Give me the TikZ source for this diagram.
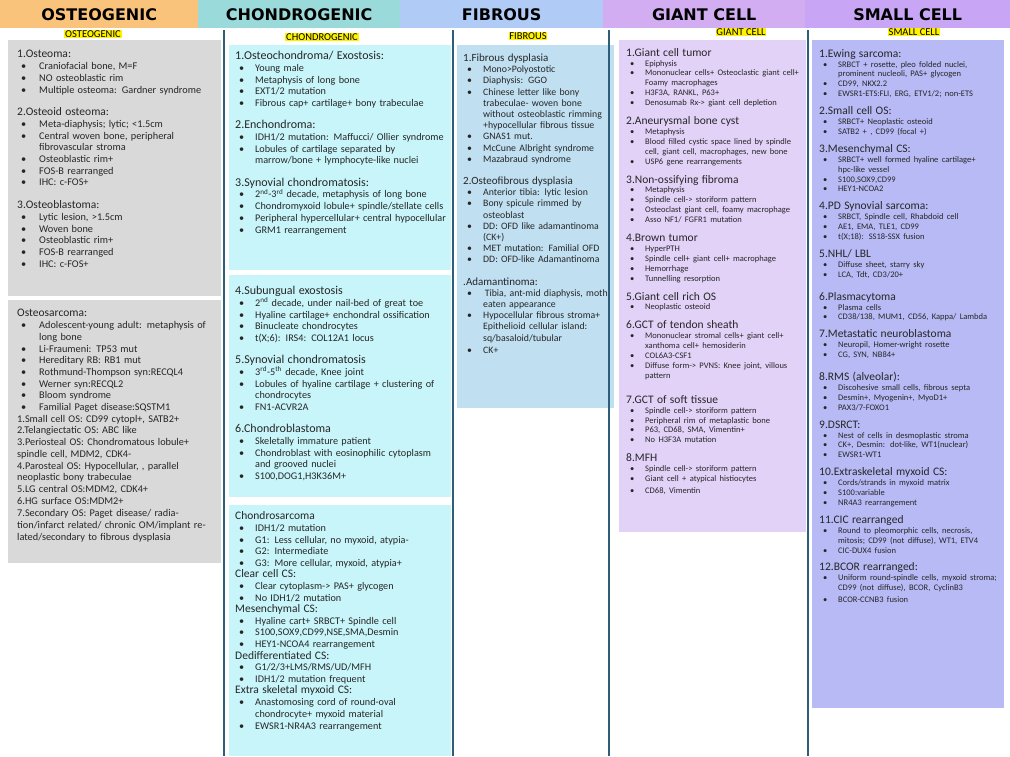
\documentclass[tikz,border=0pt]{standalone}
\usepackage{fontspec}
\setmainfont{Carlito}
\newfontfamily\hfont{DejaVu Sans}
\definecolor{hosteo}{HTML}{FAC37C}
\definecolor{hchon}{HTML}{9ADADA}
\definecolor{hfib}{HTML}{B0CBF5}
\definecolor{hgiant}{HTML}{D3ADF2}
\definecolor{hsmall}{HTML}{C8A6F5}
\definecolor{bosteo}{HTML}{D9D9D9}
\definecolor{bchon}{HTML}{C8F5FA}
\definecolor{bfib}{HTML}{C0E0F2}
\definecolor{bgiant}{HTML}{E2D2F8}
\definecolor{bsmall}{HTML}{B8BAF5}
\definecolor{vline}{HTML}{2E5E7A}
\definecolor{txt}{HTML}{262626}
\newlength\bind
\newlength\gapsize
\newcommand\hdfont{}
\newcommand\bdfont{}
\newcommand\bul[1]{\par\noindent\hangindent=\bind\hangafter=1\makebox[\bind][l]{\hspace{4pt}\textbullet}\ignorespaces#1}
\newcommand\hd[1]{\par\noindent{\hdfont #1}}
\newcommand\plainln[1]{\par\noindent #1}
\newcommand\gap{\par\vspace{\gapsize}}
\newcommand\setcol[5]{\setlength\bind{#1}\setlength\gapsize{#2}\renewcommand\hdfont{\fontsize{#3}{#4}\selectfont}\renewcommand\bdfont{\fontsize{#5}{\dimexpr#5pt+1.4pt\relax}\selectfont}\hyphenpenalty=10000\exhyphenpenalty=10000}
\tikzset{
 hbar/.style={anchor=north west,inner sep=0,minimum height=28pt,font=\hfont\bfseries\fontsize{16}{18}\selectfont},
 col/.style={anchor=north west,inner sep=0,align=left,text=txt},
 tag/.style={fill=yellow,inner sep=0.8pt,font=\fontsize{10.5}{11}\selectfont},
}
\begin{document}
\begin{tikzpicture}[x=1pt,y=-1pt]
\useasboundingbox[fill=white] (0,0) rectangle (1010,756);
% header bars
\node[hbar,fill=hosteo,minimum width=198pt] (h1) at (0,0) {OSTEOGENIC};
\node[hbar,fill=hchon,minimum width=202pt] (h2) at (198,0) {CHONDROGENIC};
\node[hbar,fill=hfib,minimum width=203pt] (h3) at (400,0) {FIBROUS};
\node[hbar,fill=hgiant,minimum width=202pt] (h4) at (603,0) {GIANT CELL};
\node[hbar,fill=hsmall,minimum width=205pt] (h5) at (805,0) {SMALL CELL};
% boxes
\fill[bosteo] (8,40) rectangle (221,296);
\fill[bosteo] (8,300) rectangle (221,563);
\fill[bchon] (229,45) rectangle (451,270);
\fill[bchon] (229,275) rectangle (451,497);
\fill[bchon] (229,505) rectangle (451,756);
\fill[bfib] (457,45) rectangle (614,408);
\fill[bgiant] (619,40) rectangle (806,532);
\fill[bsmall] (812,40) rectangle (1004,708);
% vertical lines
\foreach \xx in {224,453,609,808} \draw[vline,line width=1.5pt] (\xx,30) -- (\xx,756);
% tags
\node[tag] (t1) at (93,34) {OSTEOGENIC};
\node[tag] (t2) at (322,37) {CHONDROGENIC};
\node[tag] (t3) at (528,36) {FIBROUS};
\node[tag] (t4) at (741,32) {GIANT CELL};
\node[tag] (t5) at (914,32) {SMALL CELL};
% osteogenic
\node[col,text width=203pt] (o1) at (17,46) {\setcol{22pt}{11pt}{11.5}{13.5}{10.3}\bdfont
\hd{1.Osteoma:}
\bul{Craniofacial bone, M=F}
\bul{NO osteoblastic rim}
\bul{Multiple osteoma: Gardner syndrome}
\gap\hd{2.Osteoid osteoma:}
\bul{Meta-diaphysis; lytic; <1.5cm}
\bul{Central woven bone, peripheral fibrovascular stroma}
\bul{Osteoblastic rim+}
\bul{FOS-B rearranged}
\bul{IHC: c-FOS+}
\gap\hd{3.Osteoblastoma:}
\bul{Lytic lesion, >1.5cm}
\bul{Woven bone}
\bul{Osteoblastic rim+}
\bul{FOS-B rearranged}
\bul{IHC: c-FOS+}};
\node[col,text width=203pt] (o2) at (17,305) {\setcol{22pt}{11pt}{11.5}{13.5}{10.3}\bdfont
\hd{Osteosarcoma:}
\bul{Adolescent-young adult: metaphysis of long bone}
\bul{Li-Fraumeni: TP53 mut}
\bul{Hereditary RB: RB1 mut}
\bul{Rothmund-Thompson syn:RECQL4}
\bul{Werner syn:RECQL2}
\bul{Bloom syndrome}
\bul{Familial Paget disease:SQSTM1}
\plainln{1.Small cell OS: CD99 cytopl+, SATB2+}
\plainln{2.Telangiectatic OS: ABC like}
\plainln{3.Periosteal OS: Chondromatous lobule+ spindle cell, MDM2, CDK4-}
\plainln{4.Parosteal OS: Hypocellular, , parallel neoplastic bony trabeculae}
\plainln{5.LG central OS:MDM2, CDK4+}
\plainln{6.HG surface OS:MDM2+}
\plainln{7.Secondary OS: Paget disease/ radiation/infarct related/ chronic OM/implant related/secondary to fibrous dysplasia}};
% chondrogenic
\node[col,text width=212pt] (c1) at (235,48) {\setcol{20pt}{11pt}{12}{14}{10.2}\bdfont
\hd{1.Osteochondroma/ Exostosis:}
\bul{Young male}
\bul{Metaphysis of long bone}
\bul{EXT1/2 mutation}
\bul{Fibrous cap+ cartilage+ bony trabeculae}
\gap\hd{2.Enchondroma:}
\bul{IDH1/2 mutation: Maffucci/ Ollier syndrome}
\bul{Lobules of cartilage separated by marrow/bone + lymphocyte-like nuclei}
\gap\hd{3.Synovial chondromatosis:}
\bul{2\textsuperscript{nd}-3\textsuperscript{rd} decade, metaphysis of long bone}
\bul{Chondromyxoid lobule+ spindle/stellate cells}
\bul{Peripheral hypercellular+ central hypocellular}
\bul{GRM1 rearrangement}};
\node[col,text width=212pt] (c2) at (235,283) {\setcol{20pt}{11pt}{12}{14}{10.2}\bdfont
\hd{4.Subungual exostosis}
\bul{2\textsuperscript{nd} decade, under nail-bed of great toe}
\bul{Hyaline cartilage+ enchondral ossification}
\bul{Binucleate chondrocytes}
\bul{t(X;6): IRS4: COL12A1 locus}
\gap\hd{5.Synovial chondromatosis}
\bul{3\textsuperscript{rd}-5\textsuperscript{th} decade, Knee joint}
\bul{Lobules of hyaline cartilage + clustering of chondrocytes}
\bul{FN1-ACVR2A}
\gap\hd{6.Chondroblastoma}
\bul{Skeletally immature patient}
\bul{Chondroblast with eosinophilic cytoplasm and grooved nuclei}
\bul{S100,DOG1,H3K36M+}};
\node[col,text width=212pt] (c3) at (235,508) {\setcol{20pt}{11pt}{11.5}{13}{10.2}\bdfont
\hd{Chondrosarcoma}
\bul{IDH1/2 mutation}
\bul{G1: Less cellular, no myxoid, atypia-}
\bul{G2: Intermediate}
\bul{G3: More cellular, myxoid, atypia+}
\hd{Clear cell CS:}
\bul{Clear cytoplasm-> PAS+ glycogen}
\bul{No IDH1/2 mutation}
\hd{Mesenchymal CS:}
\bul{Hyaline cart+ SRBCT+ Spindle cell}
\bul{S100,SOX9,CD99,NSE,SMA,Desmin}
\bul{HEY1-NCOA4 rearrangement}
\hd{Dedifferentiated CS:}
\bul{G1/2/3+LMS/RMS/UD/MFH}
\bul{IDH1/2 mutation frequent}
\hd{Extra skeletal myxoid CS:}
\bul{Anastomosing cord of round-oval chondrocyte+ myxoid material}
\bul{EWSR1-NR4A3 rearrangement}};
% fibrous
\node[col,text width=148pt] (f1) at (463,50) {\setcol{20pt}{11pt}{11}{13}{9.8}\bdfont
\hd{1.Fibrous dysplasia}
\bul{Mono>Polyostotic}
\bul{Diaphysis: GGO}
\bul{Chinese letter like bony trabeculae- woven bone without osteoblastic rimming +hypocellular fibrous tissue}
\bul{GNAS1 mut.}
\bul{McCune Albright syndrome}
\bul{Mazabraud syndrome}
\gap\hd{2.Osteofibrous dysplasia}
\bul{Anterior tibia: lytic lesion}
\bul{Bony spicule rimmed by osteoblast}
\bul{DD: OFD like adamantinoma (CK+)}
\bul{MET mutation: Familial OFD}
\bul{DD: OFD-like Adamantinoma}
\gap\hd{.Adamantinoma:}
\bul{\,Tibia, ant-mid diaphysis, moth eaten appearance}
\bul{Hypocellular fibrous stroma+ Epithelioid cellular island: sq/basaloid/tubular}
\bul{CK+}};
% giant cell
\node[col,text width=176pt] (g1) at (626,46) {\setcol{19pt}{9pt}{11.5}{13.5}{8.5}\bdfont
\hd{1.Giant cell tumor}
\bul{Epiphysis}
\bul{Mononuclear cells+ Osteoclastic giant cell+ Foamy macrophages}
\bul{H3F3A, RANKL, P63+}
\bul{Denosumab Rx-> giant cell depletion}
\gap\hd{2.Aneurysmal bone cyst}
\bul{Metaphysis}
\bul{Blood filled cystic space lined by spindle cell, giant cell, macrophages, new bone}
\bul{USP6 gene rearrangements}
\gap\hd{3.Non-ossifying fibroma}
\bul{Metaphysis}
\bul{Spindle cell-> storiform pattern}
\bul{Osteoclast giant cell, foamy macrophage}
\bul{Asso NF1/ FGFR1 mutation}
\gap\hd{4.Brown tumor}
\bul{HyperPTH}
\bul{Spindle cell+ giant cell+ macrophage}
\bul{Hemorrhage}
\bul{Tunnelling resorption}
\gap\hd{5.Giant cell rich OS}
\bul{Neoplastic osteoid}
\gap\hd{6.GCT of tendon sheath}
\bul{Mononuclear stromal cells+ giant cell+ xanthoma cell+ hemosiderin}
\bul{COL6A3-CSF1}
\bul{Diffuse form-> PVNS: Knee joint, villous pattern}
\vspace{6pt}\gap\hd{7.GCT of soft tissue}
\bul{Spindle cell-> storiform pattern}
\bul{Peripheral rim of metaplastic bone}
\bul{P63, CD68, SMA, Vimentin+}
\bul{No H3F3A mutation}
\gap\hd{8.MFH}
\bul{Spindle cell-> storiform pattern}
\bul{Giant cell + atypical histiocytes}
\bul{CD68, Vimentin}};
% small cell
\node[col,text width=183pt] (s1) at (819,47) {\setcol{19pt}{8pt}{11.5}{13.5}{8.5}\bdfont
\hd{1.Ewing sarcoma:}
\bul{SRBCT + rosette, pleo folded nuclei, prominent nucleoli, PAS+ glycogen}
\bul{CD99, NKX2.2}
\bul{EWSR1-ETS:FLI, ERG, ETV1/2; non-ETS}
\gap\hd{2.Small cell OS:}
\bul{SRBCT+ Neoplastic osteoid}
\bul{SATB2 + , CD99 (focal +)}
\gap\hd{3.Mesenchymal CS:}
\bul{SRBCT+ well formed hyaline cartilage+ hpc-like vessel}
\bul{S100,SOX9,CD99}
\bul{HEY1-NCOA2}
\gap\hd{4.PD Synovial sarcoma:}
\bul{SRBCT, Spindle cell, Rhabdoid cell}
\bul{AE1, EMA, TLE1, CD99}
\bul{t(X;18): SS18-SSX fusion}
\gap\hd{5.NHL/ LBL}
\bul{Diffuse sheet, starry sky}
\bul{LCA, Tdt, CD3/20+}
\vspace{5pt}\gap\hd{6.Plasmacytoma}
\bul{Plasma cells}
\bul{CD38/138, MUM1, CD56, Kappa/ Lambda}
\gap\hd{7.Metastatic neuroblastoma}
\bul{Neuropil, Homer-wright rosette}
\bul{CG, SYN, NB84+}
\vspace{5pt}\gap\hd{8.RMS (alveolar):}
\bul{Discohesive small cells, fibrous septa}
\bul{Desmin+, Myogenin+, MyoD1+}
\bul{PAX3/7-FOXO1}
\gap\hd{9.DSRCT:}
\bul{Nest of cells in desmoplastic stroma}
\bul{CK+, Desmin: dot-like, WT1(nuclear)}
\bul{EWSR1-WT1}
\gap\hd{10.Extraskeletal myxoid CS:}
\bul{Cords/strands in myxoid matrix}
\bul{S100:variable}
\bul{NR4A3 rearrangement}
\gap\hd{11.CIC rearranged}
\bul{Round to pleomorphic cells, necrosis, mitosis; CD99 (not diffuse), WT1, ETV4}
\bul{CIC-DUX4 fusion}
\gap\hd{12.BCOR rearranged:}
\bul{Uniform round-spindle cells, myxoid stroma; CD99 (not diffuse), BCOR, CyclinB3}
\bul{BCOR-CCNB3 fusion}};
\end{tikzpicture}
\end{document}
